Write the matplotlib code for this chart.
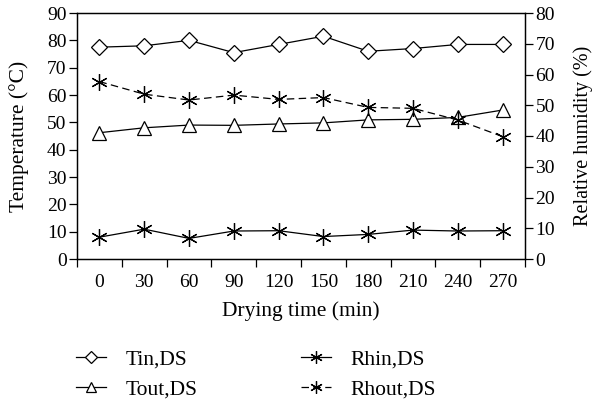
import matplotlib
matplotlib.use("Agg")
import matplotlib.pyplot as plt
import numpy as np

plt.rcParams['font.family'] = ['Liberation Serif', 'DejaVu Serif']
plt.rcParams['mathtext.fontset'] = 'stix'

times = [0, 30, 60, 90, 120, 150, 180, 210, 240, 270]
tin = [77.5, 78, 80, 75.5, 78.5, 81.5, 76, 77, 78.5, 78.5]
tout = [46.2, 48.0, 49.0, 48.9, 49.4, 49.8, 50.9, 51.1, 51.8, 54.5]
rhin = [7.1, 9.7, 6.7, 9.1, 9.2, 7.3, 8.0, 9.4, 9.1, 9.2]
rhout = [57.7, 53.6, 51.7, 53.3, 51.9, 52.5, 49.3, 49.0, 45.2, 39.8]

fig = plt.figure(figsize=(5.94, 4.05), dpi=100)
ax = fig.add_axes([77/594, 1-259/405, (525-77)/594, (259-13)/405])
ax2 = ax.twinx()

x = np.arange(len(times))
lw = 0.9
ms_kw = dict(markerfacecolor='white', markeredgecolor='black', markeredgewidth=0.9)
l1, = ax.plot(x, tin, color='black', lw=lw, marker='D', markersize=8, label='Tin,DS', **ms_kw)
l2, = ax.plot(x, tout, color='black', lw=lw, marker='^', markersize=10, label='Tout,DS', **ms_kw)
star = (6, 2, 0)
l3, = ax2.plot(x, rhin, color='black', lw=lw, marker=star, markersize=12, label='Rhin,DS',
               markeredgecolor='black', markeredgewidth=0.9)
l4, = ax2.plot(x, rhout, color='black', lw=lw, ls=(0, (6, 3.5)), marker=star, markersize=12,
               label='Rhout,DS', markeredgecolor='black', markeredgewidth=0.9)

ax.set_xlim(-0.5, len(times) - 0.5)
ax.set_ylim(0, 90)
ax.set_yticks(np.arange(0, 91, 10))
ax2.set_ylim(0, 80)
ax2.set_yticks(np.arange(0, 81, 10))

fs = 14
lfs = 15.5
ax.set_xticks(x)
ax.set_xticklabels([str(t) for t in times])
ax.set_xticks(np.arange(-0.5, len(times), 1.0), minor=True)
ax.tick_params(axis='x', which='major', length=0, pad=11, labelsize=fs)
ax.tick_params(axis='x', which='minor', length=6, direction='out', width=0.9)
ax.tick_params(axis='y', length=6, direction='out', width=0.9, labelsize=fs, pad=1.5)
ax2.tick_params(axis='y', length=6, direction='out', width=0.9, labelsize=fs, pad=1.5)

for a in (ax, ax2):
    for s in a.spines.values():
        s.set_linewidth(0.9)

ax.set_xlabel('Drying time (min)', fontsize=lfs, labelpad=7)
ax.set_ylabel('Temperature (°C)', fontsize=lfs, labelpad=13)
ax2.set_ylabel('Relative humidity (%)', fontsize=14.5, labelpad=13)

fig.legend(handles=[l1, l2, l3, l4], ncol=2, loc='upper left',
           bbox_to_anchor=(76/594, 1-349/405), frameon=False, fontsize=lfs,
           borderpad=0, borderaxespad=0,
           handlelength=1.4, columnspacing=4.8, labelspacing=0.5, handletextpad=0.9,
           markerscale=0.75)

fig.savefig('out.png', dpi=100)
